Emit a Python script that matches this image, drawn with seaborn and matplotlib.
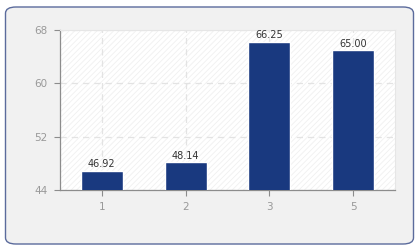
import matplotlib
matplotlib.use("Agg")
import matplotlib.pyplot as plt
import seaborn as sns
import pandas as pd
from matplotlib.patches import FancyBboxPatch, Rectangle

categories = ["1", "2", "3", "5"]
values = [46.92, 48.14, 66.25, 65.00]
yticks = [44, 52, 60, 68]

df = pd.DataFrame({"cat": categories, "val": values})

sns.set_style("white")
plt.rcParams["font.family"] = ["DejaVu Sans"]
plt.rcParams["hatch.color"] = "#eeeeee"
plt.rcParams["hatch.linewidth"] = 0.6

fig = plt.figure(figsize=(4.2, 2.5), dpi=100)
fig.patch.set_facecolor("white")
frame = FancyBboxPatch((5.5/420, 6/250), 408/420, 237/250,
                       boxstyle="round,pad=0,rounding_size=0.025",
                       transform=fig.transFigure, facecolor="#f1f1f1",
                       edgecolor="#5b6b9c", linewidth=1.0, zorder=-10)
fig.patches.append(frame)

ax = fig.add_axes([60/420, 60/250, 335/420, 160/250])
ax.set_zorder(1)
ax.set_facecolor("white")
ax.add_patch(Rectangle((0, 0), 1, 1, transform=ax.transAxes, facecolor="white",
                       edgecolor="#f0f0f0", hatch="//////", linewidth=0, zorder=0))

sns.barplot(data=df, x="cat", y="val", order=categories, color="#19397f",
            width=0.5, ax=ax, zorder=3, saturation=1)

ax.set_ylim(44, 68)
ax.set_xlim(-0.5, 3.5)
ax.set_yticks(yticks)
ax.set_xlabel("")
ax.set_ylabel("")
ax.grid(True, axis="both", linestyle=(0, (5, 4)), color="#e3e3e3", linewidth=0.9, zorder=1)
ax.set_axisbelow(True)

for i, v in enumerate(values):
    ax.text(i, v + 0.2, f"{v:.2f}", ha="center", va="bottom", fontsize=7, color="#333333", zorder=5)

for s in ["top", "right"]:
    ax.spines[s].set_color("#e6e6e6")
    ax.spines[s].set_linewidth(0.8)
for s in ["left", "bottom"]:
    ax.spines[s].set_color("#8c8c8c")
    ax.spines[s].set_linewidth(0.9)

ax.tick_params(axis="both", direction="out", length=4, width=0.8, color="#8c8c8c",
               labelcolor="#999999", labelsize=7.5, pad=5)
ax.tick_params(axis="y", left=True)
ax.tick_params(axis="x", bottom=True)

fig.savefig("out.png", dpi=100, facecolor="white")
